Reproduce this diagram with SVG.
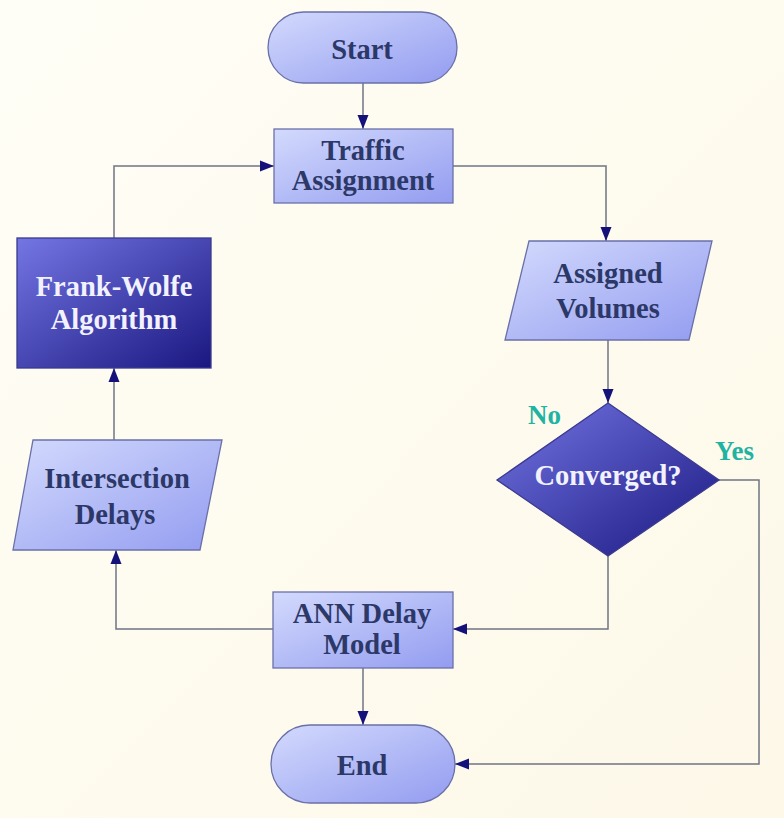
<svg xmlns="http://www.w3.org/2000/svg" width="784" height="818" viewBox="0 0 784 818">
  <defs>
    <linearGradient id="bg" x1="0" y1="0" x2="1" y2="1">
      <stop offset="0" stop-color="#fffef6"/>
      <stop offset="1" stop-color="#fdf8e8"/>
    </linearGradient>
    <linearGradient id="light" x1="0" y1="0" x2="1" y2="1">
      <stop offset="0" stop-color="#d3dafd"/>
      <stop offset="1" stop-color="#939cf0"/>
    </linearGradient>
    <linearGradient id="dark" x1="0" y1="0" x2="1" y2="1">
      <stop offset="0" stop-color="#7476e4"/>
      <stop offset="1" stop-color="#1a1780"/>
    </linearGradient>
    <marker id="arrow" viewBox="0 0 14 12" refX="14" refY="6" markerWidth="14" markerHeight="12" markerUnits="userSpaceOnUse" orient="auto">
      <path d="M0,0.5 L14,6 L0,11.5 Z" fill="#14127a"/>
    </marker>
  </defs>
  <style>
    .light { fill: url(#light); stroke: #6a70a8; stroke-width: 1.3; }
    .dark { fill: url(#dark); stroke: #3a3a90; stroke-width: 1.3; }
    .lbl { font-family: "Liberation Serif", "Times New Roman", serif; font-weight: bold; font-size: 28.5px; text-anchor: middle; fill: #2c3868; }
    .lbl.inv { fill: #f2f2ff; }
    .tag { font-family: "Liberation Serif", "Times New Roman", serif; font-weight: bold; font-size: 27px; fill: #1fb3a3; }
    .wire { fill: none; stroke: #707484; stroke-width: 1.5; }
    .wire.arr { marker-end: url(#arrow); }
  </style>

  <rect width="784" height="818" fill="url(#bg)"/>

  <g id="connectors">
    <path class="wire arr" d="M363,83 V129"/>
    <path class="wire arr" d="M453,166 H606 V241"/>
    <path class="wire arr" d="M608,340 V403"/>
    <path class="wire arr" d="M608,556 V629 H453"/>
    <path class="wire arr" d="M719,480 H759 V764 H455"/>
    <path class="wire arr" d="M363,668 V725"/>
    <path class="wire arr" d="M273,629 H116 V550"/>
    <path class="wire arr" d="M114,440 V368"/>
    <path class="wire arr" d="M114,238 V166 H274"/>
  </g>

  <g id="start">
    <rect class="light" x="268" y="12" width="189" height="71" rx="35.5"/>
    <text class="lbl" x="362" y="59">Start</text>
  </g>

  <g id="traffic-assignment">
    <rect class="light" x="274" y="129" width="179" height="74"/>
    <text class="lbl" x="363" y="160">Traffic</text>
    <text class="lbl" x="363" y="190">Assignment</text>
  </g>

  <g id="assigned-volumes">
    <polygon class="light" points="529,241 712,241 689,340 505,340"/>
    <text class="lbl" x="608" y="283">Assigned</text>
    <text class="lbl" x="608" y="318">Volumes</text>
  </g>

  <g id="converged">
    <polygon class="dark" points="608,403 719,480 608,556 497,480"/>
    <text class="lbl inv" x="608" y="485">Converged?</text>
    <text class="tag" x="528" y="424">No</text>
    <text class="tag" x="715" y="460">Yes</text>
  </g>

  <g id="ann-delay-model">
    <rect class="light" x="273" y="592" width="180" height="76"/>
    <text class="lbl" x="362" y="623">ANN Delay</text>
    <text class="lbl" x="362" y="654">Model</text>
  </g>

  <g id="end">
    <rect class="light" x="271" y="725" width="184" height="78" rx="39"/>
    <text class="lbl" x="362" y="775">End</text>
  </g>

  <g id="intersection-delays">
    <polygon class="light" points="33,440 222,440 200,550 13,550"/>
    <text class="lbl" x="117" y="488">Intersection</text>
    <text class="lbl" x="115" y="524">Delays</text>
  </g>

  <g id="frank-wolfe">
    <rect class="dark" x="17" y="238" width="194" height="130"/>
    <text class="lbl inv" x="114" y="296">Frank-Wolfe</text>
    <text class="lbl inv" x="114" y="329">Algorithm</text>
  </g>
</svg>
